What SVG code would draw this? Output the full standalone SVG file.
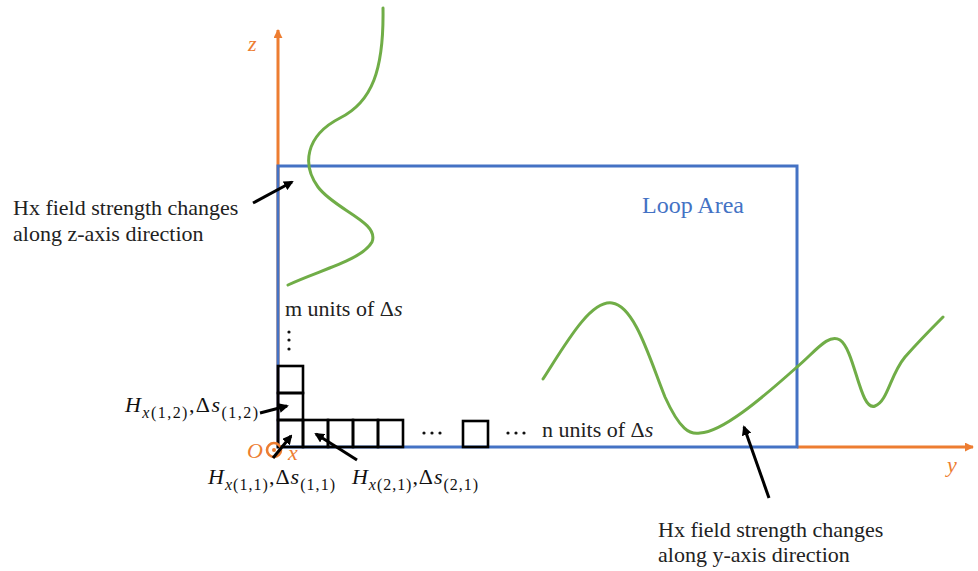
<svg xmlns="http://www.w3.org/2000/svg" width="978" height="571" viewBox="0 0 978 571">
<style>
.ax{stroke:#ED7D31;stroke-width:3;fill:none}
.ol{fill:#ED7D31;font-family:"Liberation Serif",serif;font-style:italic;font-size:22px}
.loop{fill:none;stroke:#4472C4;stroke-width:3}
.wave{fill:none;stroke:#70AD47;stroke-width:3;stroke-linecap:round}
.sq{fill:none;stroke:#000;stroke-width:2.6}
.lbl{font-family:"Liberation Serif",serif;font-size:22px;fill:#222}
.m{font-family:"Liberation Serif",serif;font-size:22px;fill:#111}
.i{font-style:italic}
.sub{font-size:16px}
.arr{stroke:#000;stroke-width:3;fill:none;marker-end:url(#ah)}
</style>
<defs>
<marker id="ah" viewBox="0 0 10 10" refX="8" refY="5" markerWidth="3.3" markerHeight="3.3" orient="auto" markerUnits="strokeWidth">
<path d="M0,0 L10,5 L0,10 z" fill="#000"/>
</marker>
<marker id="oh" viewBox="0 0 10 10" refX="9" refY="5" markerWidth="3" markerHeight="3" orient="auto" markerUnits="strokeWidth">
<path d="M0,0 L10,5 L0,10 z" fill="#ED7D31"/>
</marker>
</defs>
<rect width="978" height="571" fill="#fff"/>

<g id="axes">
<line class="ax" x1="278" y1="447" x2="278" y2="30" marker-end="url(#oh)"/>
<line class="ax" x1="797" y1="447" x2="973" y2="447" marker-end="url(#oh)"/>
<text class="ol" x="248" y="51">z</text>
<text class="ol" x="947" y="472">y</text>
</g>

<g id="loop-area">
<rect class="loop" x="278" y="166" width="519" height="281"/>
<text x="642" y="213" font-family="Liberation Serif,serif" font-size="24" fill="#4472C4">Loop Area</text>
</g>

<g id="z-wave">
<path class="wave" d="M383,8 C384,70 372,102 340,118 C305,136 302,165 318,187 C335,210 380,222 372,242 C362,260 320,270 288,285"/>
</g>

<g id="y-wave">
<path class="wave" d="M543,379 C565,345 590,300 612,303 C635,306 650,360 665,397 C680,430 690,435 700,433 C722,432 760,400 797,367 C815,352 828,333 840,340 C855,350 860,412 875,406 C888,401 890,375 905,357 C920,340 932,328 943,317"/>
</g>

<g id="cells">
<rect class="sq" x="278" y="366" width="25" height="27"/>
<rect class="sq" x="278" y="393" width="25" height="27"/>
<rect class="sq" x="278" y="420" width="25" height="27"/>
<rect class="sq" x="303" y="420" width="25" height="27"/>
<rect class="sq" x="328" y="420" width="25" height="27"/>
<rect class="sq" x="353" y="420" width="25" height="27"/>
<rect class="sq" x="378" y="420" width="25" height="27"/>
<rect class="sq" x="463" y="421" width="25" height="26"/>
<g fill="#111">
<circle cx="424" cy="433" r="1.6"/><circle cx="432" cy="433" r="1.6"/><circle cx="440" cy="433" r="1.6"/>
<circle cx="508" cy="433" r="1.6"/><circle cx="516" cy="433" r="1.6"/><circle cx="524" cy="433" r="1.6"/>
<circle cx="289" cy="332" r="1.6"/><circle cx="289" cy="340" r="1.6"/><circle cx="289" cy="349" r="1.6"/>
</g>
<text class="lbl" x="542" y="437">n units of Δ<tspan class="i">s</tspan></text>
<text class="lbl" x="285" y="316">m units of Δ<tspan class="i">s</tspan></text>
</g>

<g id="origin">
<circle cx="274" cy="450" r="7" fill="none" stroke="#ED7D31" stroke-width="2.6"/>
<circle cx="274" cy="450" r="2" fill="#ED7D31"/>
<text class="ol" x="247" y="458" font-size="20">O</text>
<text class="ol" x="288" y="460" font-size="20">x</text>
</g>

<g id="labels">
<text class="m" x="125" y="412" textLength="133" lengthAdjust="spacing"><tspan class="i">H</tspan><tspan class="sub" dy="6"><tspan class="i">x</tspan>(1,2)</tspan><tspan dy="-6">,Δ</tspan><tspan class="i">s</tspan><tspan class="sub" dy="6">(1,2)</tspan></text>
<text class="m" x="208" y="484" textLength="127" lengthAdjust="spacing"><tspan class="i">H</tspan><tspan class="sub" dy="6"><tspan class="i">x</tspan>(1,1)</tspan><tspan dy="-6">,Δ</tspan><tspan class="i">s</tspan><tspan class="sub" dy="6">(1,1)</tspan></text>
<text class="m" x="352" y="484" textLength="126" lengthAdjust="spacing"><tspan class="i">H</tspan><tspan class="sub" dy="6"><tspan class="i">x</tspan>(2,1)</tspan><tspan dy="-6">,Δ</tspan><tspan class="i">s</tspan><tspan class="sub" dy="6">(2,1)</tspan></text>
<text class="lbl" x="13" y="215">Hx field strength changes</text>
<text class="lbl" x="13" y="241">along z-axis direction</text>
<text class="lbl" x="658" y="537">Hx field strength changes</text>
<text class="lbl" x="658" y="562">along y-axis direction</text>
</g>

<g id="connectors">
<line class="arr" x1="253" y1="203" x2="292" y2="182"/>
<line class="arr" x1="769" y1="498" x2="744" y2="427"/>
<line class="arr" x1="260" y1="413" x2="287" y2="406"/>
<line class="arr" x1="273" y1="458" x2="291" y2="436"/>
<line class="arr" x1="357" y1="460" x2="316" y2="434"/>
</g>
</svg>
